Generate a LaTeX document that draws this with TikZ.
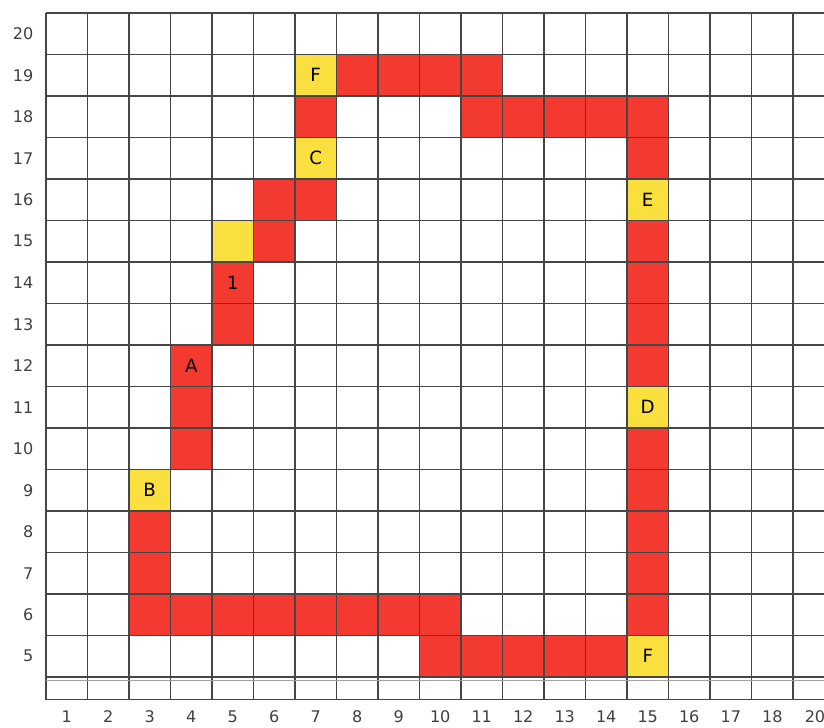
\documentclass[tikz,border=0pt]{standalone}
\usepackage{fontspec}
\setmainfont{DejaVu Sans}
\definecolor{pathRed}{RGB}{242,58,48}
\definecolor{pathYellow}{RGB}{250,224,62}
\definecolor{gridGray}{RGB}{70,70,70}
\usetikzlibrary{positioning}

\begin{document}
\begin{tikzpicture}[
  cell/.style={minimum size=1cm, inner sep=0pt, font=\fontsize{12.5}{14}\selectfont},
  redcell/.style={cell, fill=pathRed},
  yelcell/.style={cell, fill=pathYellow},
  gridline/.style={gridGray, line width=0.8pt},
  axlabel/.style={font=\fontsize{11}{13}\selectfont, text=black!75}
]
  \useasboundingbox (-1.108,2.795) rectangle (18.747,20.313);

  % red cells of the path
  \foreach \c/\r in {8/19,9/19,10/19,11/19, 7/18,11/18,12/18,13/18,14/18,15/18,
                     15/17, 6/16,7/16, 6/15,15/15, 5/13,15/13, 15/14, 15/12,
                     4/11, 4/10,15/10, 15/9, 3/8,15/8, 3/7,15/7,
                     3/6,4/6,5/6,6/6,7/6,8/6,9/6,10/6,15/6,
                     10/5,11/5,12/5,13/5,14/5}
    \node[redcell] (r\c-\r) at (\c-0.5,\r-0.5) {};

  % labelled cells
  \node[redcell] (one) at (4.5,13.5) {1};
  \node[redcell] (a)   at (3.5,11.5) {A};
  \node[yelcell] (f1)  at (6.5,18.5) {F};
  \node[yelcell] (c)   at (6.5,16.5) {C};
  \node[yelcell] (y15) at (4.5,14.5) {};
  \node[yelcell] (e)   at (14.5,15.5) {E};
  \node[yelcell] (d)   at (14.5,10.5) {D};
  \node[yelcell] (b)   at (2.5,8.5) {B};
  \node[yelcell] (f2)  at (14.5,4.5) {F};

  % grid
  \foreach \x in {0,...,18}
    \draw[gridline] (\x,3.45) -- (\x,20);
  \foreach \y in {4,...,20}
    \draw[gridline] (0,\y) -- (18.747,\y);
  \draw[gridline] (0,3.45) -- (18.747,3.45);
  \draw[gridGray!50, line width=0.5pt] (0,3.93) -- (18.747,3.93);

  % axis labels
  \foreach \r in {5,...,20}
    \node[axlabel, anchor=east] (y\r) at (-0.18,\r-0.5) {\r};
  \foreach \c in {1,...,18}
    \node[axlabel] (x\c) at (\c-0.5,3.04) {\c};
  \node[axlabel] (x20) at (18.53,3.04) {20};
\end{tikzpicture}
\end{document}
